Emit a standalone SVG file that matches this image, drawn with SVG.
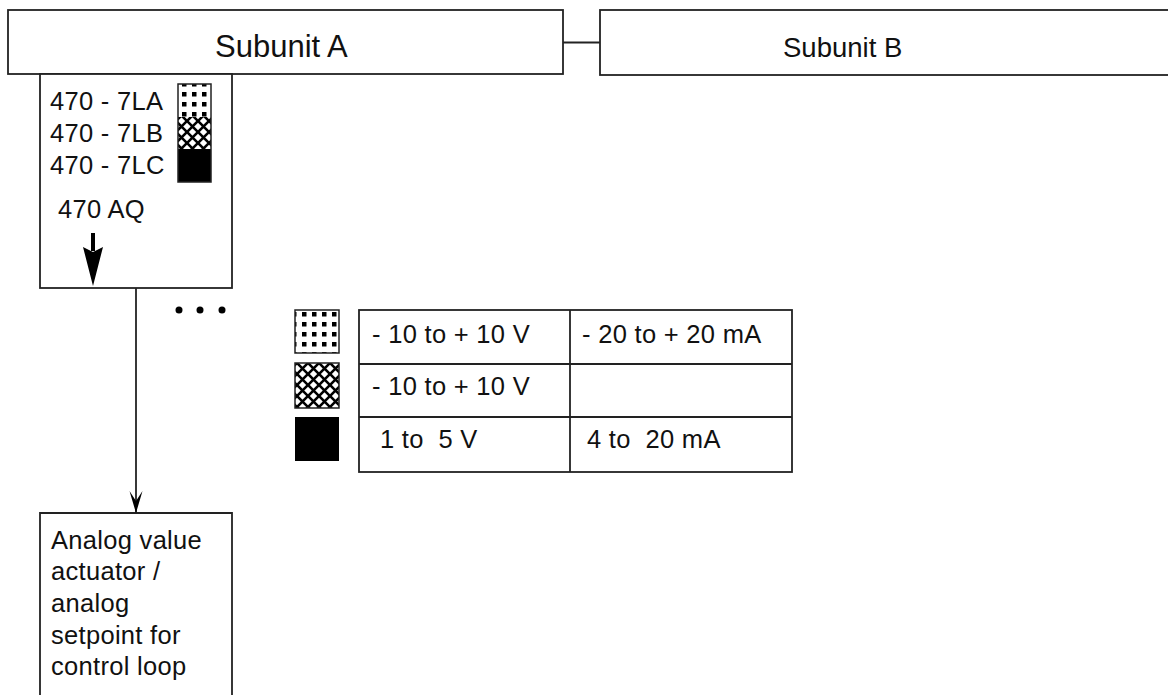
<svg xmlns="http://www.w3.org/2000/svg" width="1168" height="695" viewBox="0 0 1168 695">
<style>
.box{fill:#fff;stroke:#222;stroke-width:1.8}
.ln{fill:none;stroke:#222;stroke-width:1.8}
.t{font-family:"Liberation Sans",Arial,sans-serif;fill:#111}
.big{font-size:31px}
.lab{font-size:25.5px;letter-spacing:0.3px}
.tab{font-size:25.5px;letter-spacing:0.3px}
.bb{font-size:25.5px;letter-spacing:0.3px}
</style>
<defs>
<pattern id="dots" patternUnits="userSpaceOnUse" width="10" height="10" x="0" y="0">
<rect width="10" height="10" fill="#fff"/>
<rect x="2" y="2" width="4.5" height="4.5" fill="#000"/>
</pattern>
<pattern id="hatch" patternUnits="userSpaceOnUse" width="11" height="11">
<rect width="11" height="11" fill="#fff"/>
<path d="M0,0 L11,11 M11,0 L0,11" stroke="#000" stroke-width="2.6"/>
</pattern>
<marker id="arr" markerUnits="userSpaceOnUse" markerWidth="24" markerHeight="16" refX="22" refY="7" orient="auto" viewBox="0 0 24 14">
<path d="M0,0.5 L10,7 L0,13.5 L22,7 Z" fill="#000"/>
</marker>
</defs>

<g id="subunitA">
<rect class="box" x="8" y="10" width="555" height="64"/>
<text class="t big" x="215" y="57">Subunit A</text>
</g>

<g id="subunitB">
<rect class="box" x="600" y="10" width="580" height="65"/>
<text class="t big" x="783" y="57" style="font-size:27.5px">Subunit B</text>
</g>

<g id="module470">
<rect class="box" x="40" y="74" width="192" height="214"/>
<text class="t lab" x="50" y="110">470 - 7LA</text>
<text class="t lab" x="50" y="142">470 - 7LB</text>
<text class="t lab" x="50" y="174">470 - 7LC</text>
<rect x="178" y="84" width="33" height="33" fill="url(#dots)"/>
<rect x="178" y="117" width="33" height="32" fill="url(#hatch)"/>
<rect x="178" y="149" width="33" height="33" fill="#000"/>
<rect x="178" y="84" width="33" height="98" fill="none" stroke="#222" stroke-width="1.5"/>
<text class="t lab" x="58" y="218">470 AQ</text>
<rect x="91" y="233" width="4" height="18" fill="#000"/>
<polygon points="83,247 93,252 103,247 93,286" fill="#000"/>
</g>

<g id="dots3">
<circle cx="179" cy="310" r="3.5" fill="#000"/>
<circle cx="200" cy="310" r="3.5" fill="#000"/>
<circle cx="222" cy="310" r="3.5" fill="#000"/>
</g>

<g id="legend">
<rect x="295" y="310" width="44" height="43" fill="url(#dots)" stroke="#222" stroke-width="1.5"/>
<rect x="295" y="363" width="44" height="45" fill="url(#hatch)" stroke="#222" stroke-width="1.5"/>
<rect x="295" y="417" width="44" height="44" fill="#000"/>
</g>

<g id="rangeTable">
<rect class="box" x="359" y="310" width="433" height="162"/>
<line class="ln" x1="359" y1="364" x2="792" y2="364"/>
<line class="ln" x1="359" y1="417" x2="792" y2="417"/>
<line class="ln" x1="570" y1="310" x2="570" y2="472"/>
<text class="t tab" x="372" y="343">- 10 to + 10 V</text>
<text class="t tab" x="582" y="343">- 20 to + 20 mA</text>
<text class="t tab" x="372" y="395">- 10 to + 10 V</text>
<text class="t tab" x="380" y="448" xml:space="preserve">1 to  5 V</text>
<text class="t tab" x="587" y="448" xml:space="preserve">4 to  20 mA</text>
</g>

<g id="actuator">
<path class="box" d="M40,700 V513 H232 V700"/>
<text class="t bb" x="51" y="549">Analog value</text>
<text class="t bb" x="51" y="580">actuator /</text>
<text class="t bb" x="51" y="612">analog</text>
<text class="t bb" x="51" y="644">setpoint for</text>
<text class="t bb" x="51" y="675">control loop</text>
</g>

<g id="connectors">
<line class="ln" x1="563" y1="42.5" x2="600" y2="42.5"/>
<line class="ln" x1="136" y1="288" x2="136" y2="513" marker-end="url(#arr)"/>
</g>
</svg>
